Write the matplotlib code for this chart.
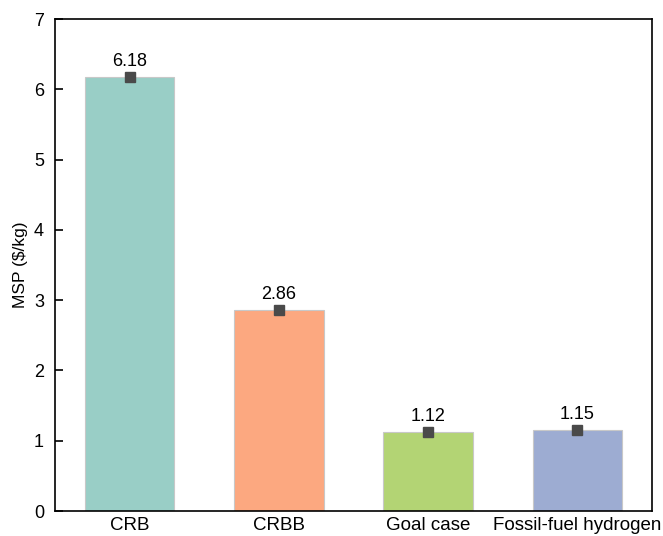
import matplotlib.pyplot as plt
import numpy as np

plt.rcParams['font.family'] = ['Liberation Sans', 'DejaVu Sans']

# MSP values per case
categories = ['CRB', 'CRBB', 'Goal case', 'Fossil-fuel hydrogen']
msp = [6.18, 2.86, 1.12, 1.15]
colors = ['#99CEC6', '#FCA880', '#B3D474', '#9DACD2']
y_ticks = [0, 1, 2, 3, 4, 5, 6, 7]

fig = plt.figure(figsize=(6.63, 5.36), dpi=100)
ax = fig.add_axes([55 / 663, 1 - 511 / 536, 597 / 663, 492 / 536])

x = np.arange(len(categories))
ax.bar(x, msp, width=0.6, color=colors, edgecolor='#c8c8c8', linewidth=0.8, zorder=2)
ax.plot(x, msp, 's', color='#4a4a4a', markersize=7, zorder=3)

for xi, v in zip(x, msp):
    ax.text(xi, v + 0.1, f'{v:.2f}', ha='center', va='bottom', fontsize=13)

ax.set_xlim(-0.5, 3.5)
ax.set_ylim(0, 7)
ax.set_xticks(x)
ax.set_xticklabels(categories, fontsize=13.5)
ax.set_yticks(y_ticks)
ax.set_yticklabels([str(t) for t in y_ticks], fontsize=13)
ax.set_ylabel('MSP ($/kg)', fontsize=12.5, labelpad=4)
ax.tick_params(direction='in', length=6, width=1.2)
ax.tick_params(axis='x', pad=4)
ax.tick_params(axis='y', pad=8)
for s in ax.spines.values():
    s.set_linewidth(1.2)

fig.savefig('out.png', dpi=100)
